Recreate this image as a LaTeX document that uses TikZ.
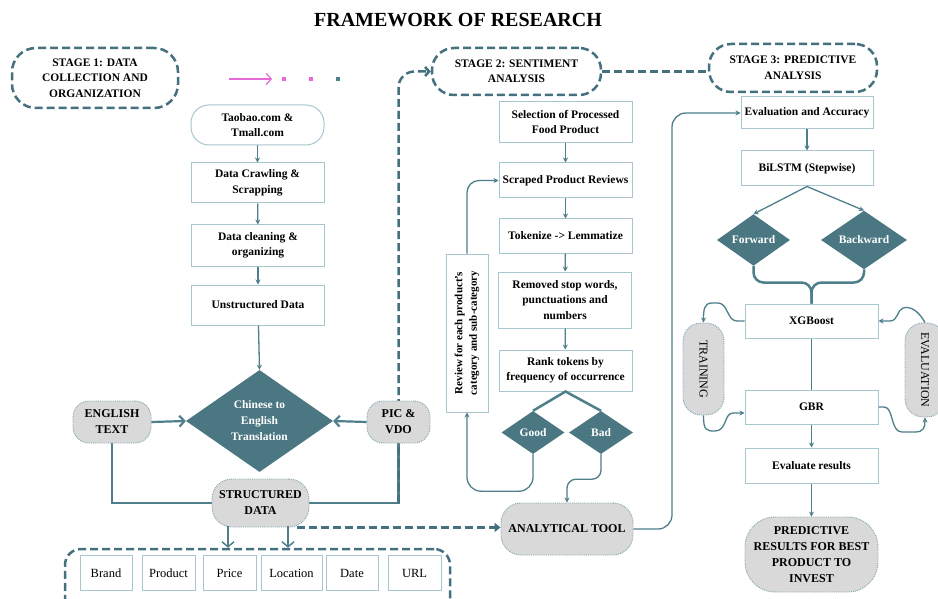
\documentclass[tikz,border=0pt]{standalone}
\usepackage{fontspec}
\setmainfont{Liberation Serif}
\usetikzlibrary{shapes.geometric,arrows.meta,calc}
\pgfdeclarelayer{bg}
\pgfsetlayers{bg,main}
\definecolor{tealc}{HTML}{4E7F8B}
\definecolor{boxc}{HTML}{A8C6CE}
\definecolor{diac}{HTML}{4A7782}
\definecolor{grayc}{HTML}{D9D9D9}
\definecolor{dashc}{HTML}{44717D}
\definecolor{pinkc}{HTML}{E46AD8}
\definecolor{dotc}{HTML}{7FA3AD}
\begin{document}
\begin{tikzpicture}[x=1pt,y=-1pt,
 txt/.style={font=\bfseries\fontsize{11.5}{15.5}\selectfont, align=center, inner sep=1pt},
 box/.style={txt, draw=boxc, line width=1pt, fill=white, minimum width=133pt},
 rbox/.style={box, rounded corners=18pt},
 gbox/.style={txt, draw=dotc, densely dotted, line width=0.9pt, fill=grayc, rounded corners=16pt, font=\bfseries\fontsize{12}{16}\selectfont},
 dia/.style={txt, diamond, fill=diac, draw=none, text=white, inner sep=0pt},
 stagebox/.style={txt, draw=dashc, line width=2.5pt, dash pattern=on 8pt off 4pt, rounded corners=24pt},
 attr/.style={draw=boxc, line width=1pt, font=\fontsize{12.5}{15}\selectfont, minimum height=35pt, inner sep=0pt},
 conn/.style={draw=tealc, line width=1.3pt, -{Stealth[length=5pt,width=5pt]}},
 plainline/.style={draw=tealc, line width=1.3pt},
 heavyline/.style={draw=tealc, line width=2.5pt},
 heavyconn/.style={draw=tealc, line width=2.2pt, -{Straight Barb[length=5pt,width=11pt]}},
 barbconn/.style={draw=tealc, line width=1.5pt, -{Straight Barb[length=5pt,width=12pt]}},
 dashconn/.style={draw=dashc, line width=2.5pt, dash pattern=on 8pt off 4pt},
]
\useasboundingbox (0,0) rectangle (938,599);
\clip (0,0) rectangle (938,599);
\begin{pgfonlayer}{bg}
\fill[white] (0,0) rectangle (938,599);
\end{pgfonlayer}

% title
\node[font=\bfseries\fontsize{20}{24}\selectfont] (title) at (458,20) {FRAMEWORK OF RESEARCH};

% ---------- Stage 1 ----------
\node[stagebox, minimum width=166pt, minimum height=60pt] (s1) at (95,78) {STAGE 1: DATA\\COLLECTION AND\\ORGANIZATION};
\coordinate (pa1) at (229,79);
\coordinate (pa2) at (272,79);
\draw[pinkc, line width=1.2pt, -{Straight Barb[length=5pt,width=11pt]}] (pa1) -- (pa2);
\node[fill=pinkc, minimum size=4pt, inner sep=0pt] (dot1) at (284,79) {};
\node[fill=pinkc, minimum size=4pt, inner sep=0pt] (dot2) at (311,79) {};
\node[fill=tealc, minimum size=4pt, inner sep=0pt] (dot3) at (338,79) {};

\node[rbox, minimum height=40pt] (tao) at (257.5,125) {Taobao.com \&\\Tmall.com};
\node[box, minimum height=40pt] (crawl) at (257.5,183) {Data Crawling \&\\Scrapping};
\node[box, minimum height=41pt] (clean) at (258,245.5) {Data cleaning \&\\organizing};
\node[box, minimum height=40pt] (unst) at (258,305) {Unstructured Data};
\node[dia, minimum width=147pt, minimum height=102pt, font=\bfseries\fontsize{11.5}{16}\selectfont] (trans) at (259.5,421) {Chinese to\\English\\Translation};
\node[gbox, minimum width=78pt, minimum height=42pt] (eng) at (112,422) {ENGLISH\\TEXT};
\node[gbox, minimum width=63pt, minimum height=42pt] (pic) at (398.5,422) {PIC \&\\VDO};
\node[gbox, minimum width=97pt, minimum height=48pt, rounded corners=20pt] (struct) at (260.5,503) {STRUCTURED\\DATA};

\node[dashconn, draw=dashc, rounded corners=16pt, minimum width=385pt, minimum height=72pt] (cont) at (257.5,585) {};
\node[attr, minimum width=52pt] (brand) at (106,573) {Brand};
\node[attr, minimum width=53pt] (prod) at (168.5,573) {Product};
\node[attr, minimum width=53pt] (price) at (229.5,573) {Price};
\node[attr, minimum width=61pt] (loc) at (291.5,573) {Location};
\node[attr, minimum width=52pt] (date) at (352,573) {Date};
\node[attr, minimum width=53pt] (url) at (414.5,573) {URL};

\draw[conn] (tao) -- (crawl);
\draw[conn] (crawl) -- (clean);
\draw[conn] (clean) -- (unst);
\draw[conn] (unst) -- (trans.north);
\draw[heavyconn] (eng.east) -- (trans.west);
\draw[heavyconn] (pic.west) -- (trans.east);
\begin{pgfonlayer}{bg}
\draw[heavyline] (eng.south) |- (struct.west);
\draw[heavyline] (pic.south) |- (struct.east);
\end{pgfonlayer}
\coordinate (sa1) at (228,526);
\coordinate (sa2) at (288,526);
\draw[barbconn] (sa1) -- (sa1 |- cont.north);
\draw[barbconn] (sa2) -- (sa2 |- cont.north);

% ---------- Stage 2 ----------
\node[stagebox, minimum width=169pt, minimum height=47pt, rounded corners=22pt] (s2) at (516.5,71.5) {STAGE 2: SENTIMENT\\ANALYSIS};
\node[stagebox, minimum width=168pt, minimum height=48pt, rounded corners=22pt] (s3) at (793,68) {STAGE 3: PREDICTIVE\\ANALYSIS};
\draw[dashconn] (s2.east) -- (s2.east -| s3.west);
\begin{pgfonlayer}{bg}
\draw[dashconn, rounded corners=16pt, -{Straight Barb[length=4pt,width=9pt]}] (pic.south |- struct.east) |- (s2.west);
\end{pgfonlayer}

\node[box, minimum height=41pt] (sel) at (565.5,122) {Selection of Processed\\Food Product};
\node[box, minimum height=35pt] (scr) at (565.5,180.5) {Scraped Product Reviews};
\node[box, minimum height=34pt] (tok) at (565.5,236) {Tokenize -> Lemmatize};
\node[box, minimum height=56pt] (rem) at (565,300) {Removed stop words,\\punctuations and\\numbers};
\node[box, minimum height=41pt] (rank) at (565.5,370.5) {Rank tokens by\\frequency of occurrence};
\node[dia, minimum width=63pt, minimum height=43pt] (good) at (533,432.5) {Good};
\node[dia, minimum width=64pt, minimum height=43pt] (bad) at (601,432.5) {Bad};
\node[box, rotate=90, minimum width=158pt, minimum height=42pt, font=\bfseries\fontsize{11}{14.5}\selectfont] (rev) at (467,333) {Review for each product's\\category and sub-category};
\node[gbox, minimum width=132pt, minimum height=52pt, rounded corners=20pt] (tool) at (567,529) {ANALYTICAL TOOL};

\draw[conn] (sel) -- (scr);
\draw[conn] (scr) -- (tok);
\draw[conn] (tok) -- (rem);
\draw[conn] (rem) -- (rank);
\draw[heavyline] (good.north) -- (rank.south) -- (bad.north);
\draw[conn, rounded corners=12pt] (rev.east) |- (scr.west);
\draw[conn, rounded corners=14pt] (good.south) -- ++(0,37) -| (rev.west);
\draw[conn, rounded corners=9pt] (bad.south) -- ++(0,25) -| (tool.north);
\draw[dashconn, -{Triangle[length=6pt,width=9pt]}] ([xshift=-12pt]struct.south east) -- (struct.south east -| tool.west);
\coordinate (atbend) at (672,300);

% ---------- Stage 3 ----------
\node[box, minimum width=132pt, minimum height=32pt] (eva) at (807,113) {Evaluation and Accuracy};
\node[box, minimum width=132pt, minimum height=35pt] (bil) at (807,168.5) {BiLSTM (Stepwise)};
\node[dia, minimum width=73pt, minimum height=44pt] (fwd) at (753.5,240) {Forward};
\node[dia, minimum width=86pt, minimum height=44pt] (bwd) at (864,240) {Backward};
\node[box, minimum height=34pt] (xgb) at (811.5,321) {XGBoost};
\node[box, minimum height=34pt] (gbr) at (811.5,407) {GBR};
\node[box, minimum height=35pt] (evr) at (811.5,465.5) {Evaluate results};
\node[gbox, minimum width=133pt, minimum height=75pt, rounded corners=30pt] (pred) at (811.5,554.5) {PREDICTIVE\\RESULTS FOR BEST\\PRODUCT TO\\INVEST};
\node[gbox, rotate=-90, minimum width=92pt, minimum height=41pt, rounded corners=18pt, font=\fontsize{12}{16}\selectfont] (trn) at (703.5,369) {TRAINING};
\node[gbox, rotate=-90, minimum width=94pt, minimum height=40pt, rounded corners=18pt, font=\fontsize{12}{16}\selectfont] (evl) at (925,370) {EVALUATION};

\draw[conn, rounded corners=14pt] (tool.east) -| (atbend) |- (eva.west);
\draw[conn] (eva) -- (bil);
\draw[conn] (bil.south) -- (fwd.north);
\draw[conn] (bil.south) -- (bwd.north);
\draw[heavyline, rounded corners=10pt] (fwd.south) |- ($(xgb.north)+(0,-21)$) -- (xgb.north);
\draw[heavyline, rounded corners=10pt] (bwd.south) |- ($(xgb.north)+(0,-21)$) -- (xgb.north);
\draw[plainline] (xgb) -- (gbr);
\draw[conn] (gbr) -- (evr);
\draw[conn] (evr) -- (pred);
\draw[conn] (xgb.west) -- (737,321) .. controls (727,321) and (728,303) .. (718,303) -- (712,303) .. controls (704,303) and (703.5,310) .. (trn.west);
\draw[conn] (trn.east) .. controls (703.5,430) and (706,431) .. (715,431) .. controls (727,431) and (724,413) .. (733,413) -- ($(gbr.west)+(0,6)$);
\draw[conn] (gbr.east) -- (884,407) .. controls (894,407) and (890,432) .. (902,432) -- (915,432) .. controls (924,432) and (925,427) .. (evl.east);
\draw[conn] (evl.west) .. controls (918,310) and (910,306) .. (903,308) .. controls (897,310) and (898,321) .. (890,321) -- (xgb.east);
\end{tikzpicture}
\end{document}
